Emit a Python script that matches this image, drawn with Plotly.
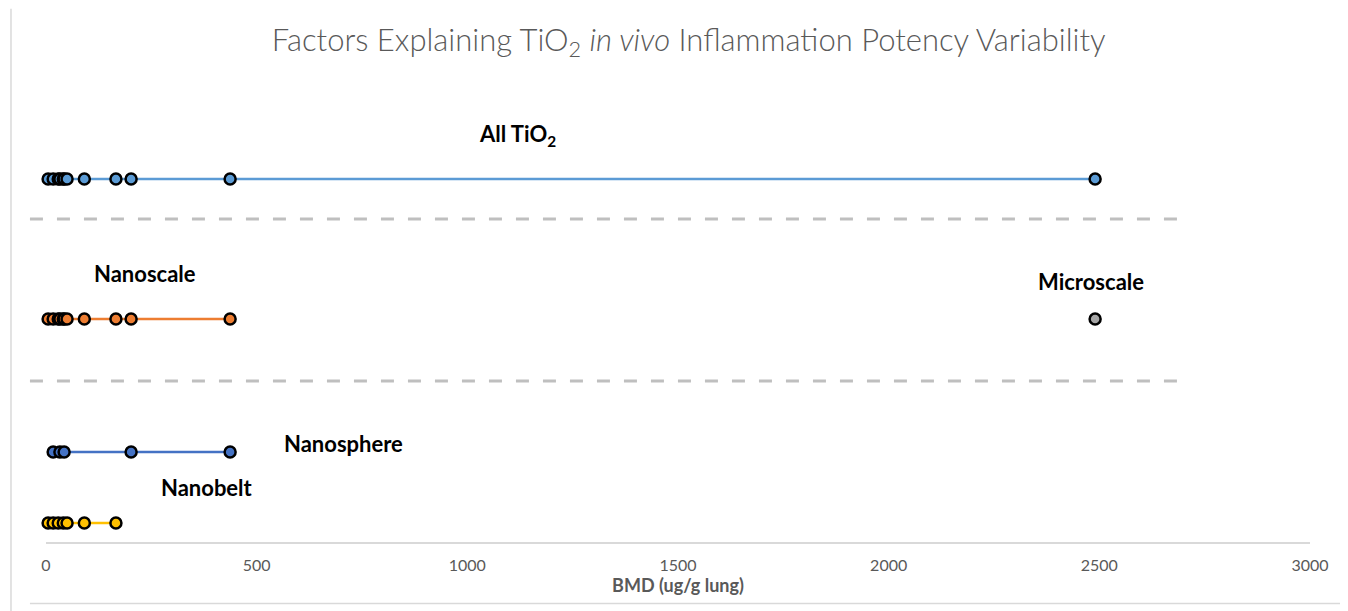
import plotly.graph_objects as go

# BMD values (ug/g lung)
nanobelt_x = [5, 17, 29, 41, 50, 91, 166]
nanosphere_x = [17, 33, 43, 202, 437]
nanoscale_x = [5, 17, 29, 33, 41, 43, 50, 91, 166, 202, 437]
microscale_x = [2490]
all_x = [5, 17, 29, 33, 41, 43, 50, 91, 166, 202, 437, 2490]

# row heights on a hidden y axis
row_y = {'Nanobelt': 0.19, 'Nanosphere': 0.9, 'Nanoscale': 2.23, 'Microscale': 2.23, 'All': 3.63}
sep_y = [3.23, 1.61]

x_ticks = [0, 500, 1000, 1500, 2000, 2500, 3000]

rows = [
    ('All', all_x, '#5b9bd5'),
    ('Nanoscale', nanoscale_x, '#ed7d31'),
    ('Microscale', microscale_x, '#a5a5a5'),
    ('Nanosphere', nanosphere_x, '#4472c4'),
    ('Nanobelt', nanobelt_x, '#ffc000'),
]

fig = go.Figure()
for name, xs, color in rows:
    fig.add_trace(go.Scatter(
        x=xs,
        y=[row_y[name]] * len(xs),
        mode='lines+markers',
        line=dict(color=color, width=2.5),
        marker=dict(size=11, color=color, line=dict(color='#000000', width=2.5)),
        name=name,
        cliponaxis=False,
    ))

label_font = dict(family='Lato', size=22, color='#000000', weight='bold')
labels = [
    ('All TiO<sub>2</sub>', 1120, 4.07),
    ('Nanoscale', 235, 2.69),
    ('Microscale', 2480, 2.61),
    ('Nanosphere', 707, 0.99),
    ('Nanobelt', 382, 0.55),
]
annotations = [
    dict(text=t, x=x, y=y, xref='x', yref='y', showarrow=False, font=label_font)
    for t, x, y in labels
]

shapes = []
for y in sep_y:
    shapes.append(dict(
        type='line', xref='paper', yref='y',
        x0=-0.0127, x1=0.9035, y0=y, y1=y,
        line=dict(color='#bfbfbf', width=3, dash='13px,14px'),
    ))
# pieces of the outer chart border
shapes.append(dict(type='line', xref='paper', yref='paper', x0=-0.0127, x1=1.04,
                   y0=-0.136, y1=-0.136, line=dict(color='#d9d9d9', width=1.5)))
shapes.append(dict(type='line', xref='paper', yref='paper', x0=-0.0277, x1=-0.0277,
                   y0=-0.16, y1=1.18, line=dict(color='#d9d9d9', width=1.5)))

# page body adds an 8px offset, so the figure is 8px smaller
fig.update_layout(
    width=1340,
    height=603,
    margin=dict(l=38, r=38, t=82, b=69),
    paper_bgcolor='white',
    plot_bgcolor='white',
    showlegend=False,
    title=dict(
        text='Factors Explaining TiO<sub>2</sub> <i>in vivo</i> Inflammation Potency Variability',
        x=0.508, xanchor='center', y=0.947, yanchor='middle',
        font=dict(family='Lato', size=31, color='#595959', weight=300),
    ),
    annotations=annotations,
    shapes=shapes,
)
fig.update_xaxes(
    range=[0, 3000],
    tickvals=x_ticks,
    showgrid=False,
    zeroline=False,
    showline=True,
    linecolor='#d9d9d9',
    linewidth=1.5,
    ticks='',
    ticklabelstandoff=8,
    tickfont=dict(family='Lato', size=16, color='#595959'),
    title=dict(text='<b>BMD (ug/g lung)</b>', standoff=0,
               font=dict(family='Lato', size=18, color='#595959')),
)
fig.update_yaxes(range=[0, 4.52], visible=False)

fig.write_html('out.html')
